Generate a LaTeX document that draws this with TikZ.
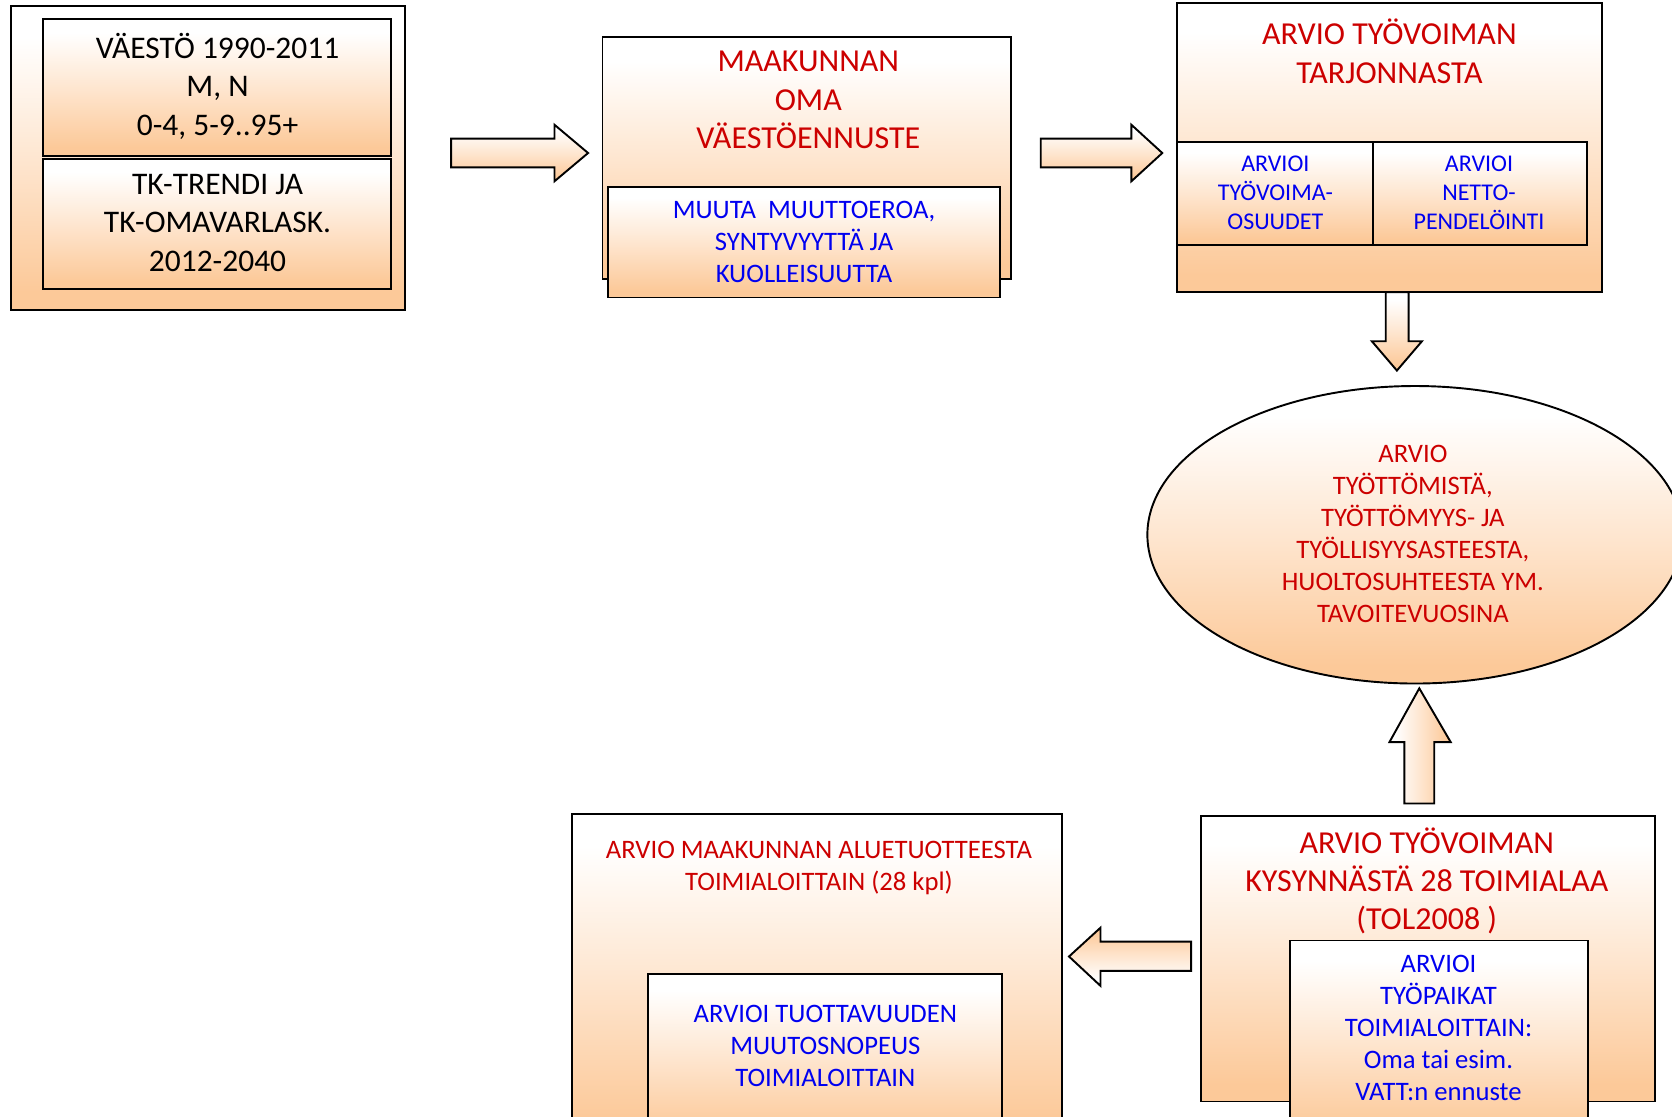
\documentclass[tikz,border=0pt]{standalone}
\usepackage{fontspec}
\setmainfont{Carlito}
\definecolor{orb}{RGB}{252,201,153}
\definecolor{orm}{RGB}{254,230,208}
\definecolor{tred}{RGB}{204,0,0}
\definecolor{tblue}{RGB}{0,0,240}
\pgfdeclareverticalshading{peach}{100bp}{color(0bp)=(orb); color(28bp)=(orb); color(50bp)=(orm); color(70bp)=(white); color(100bp)=(white)}
\tikzset{
  box/.style={draw=black, line width=1.8pt, shading=peach},
  barrow/.style={draw=black, line width=1.8pt, line join=miter, shading=peach},
  blk/.style={font=\fontsize{29.5}{36}\selectfont, align=center, text=black, inner sep=0pt},
  redbig/.style={font=\fontsize{30}{36}\selectfont, align=center, text=tred, inner sep=0pt},
  redsm/.style={font=\fontsize{25}{30}\selectfont, align=center, text=tred, inner sep=0pt},
  bluesm/.style={font=\fontsize{25}{30}\selectfont, align=center, text=tblue, inner sep=0pt},
  bluexs/.style={font=\fontsize{22.5}{27}\selectfont, align=center, text=tblue, inner sep=0pt}
}
\begin{document}
\begin{tikzpicture}[x=1pt,y=-1pt]
\useasboundingbox (0,0) rectangle (1568,1047);
\clip (0,0) rectangle (1568,1047);
\fill[white] (0,0) rectangle (1568,1047);
% box 1
\path[box] (10,6) rectangle (380,291);
\path[box] (40,18) rectangle (367,146);
\path[box] (40,149) rectangle (367,271);
\node[blk] (t1) at (204,81) {VÄESTÖ 1990-2011\\M, N\\0-4, 5-9..95+};
\node[blk] (t2) at (204,209) {TK-TRENDI JA\\TK-OMAVARLASK.\\2012-2040};
% arrow 1
\path[barrow] (423,130) -- (520,130) -- (520,117) -- (551.5,143.5) -- (520,170) -- (520,157) -- (423,157) -- cycle;
% box 2
\path[box] (565,35) rectangle (948,262);
\path[box] (570,175) rectangle (938,279);
\node[redbig] (t3) at (758,94) {MAAKUNNAN\\OMA\\VÄESTÖENNUSTE};
\node[bluesm] (t4) at (754,227) {MUUTA\ \ MUUTTOEROA,\\SYNTYVYYTTÄ JA\\KUOLLEISUUTTA};
% arrow 2
\path[barrow] (976,130) -- (1061,130) -- (1061,117) -- (1090,143.5) -- (1061,170) -- (1061,157) -- (976,157) -- cycle;
% box 3
\path[box] (1104,3) rectangle (1502,274);
\path[box] (1104,133.5) rectangle (1288,230);
\path[box] (1288,133.5) rectangle (1488,230);
\node[redbig] (t5) at (1303,48) {ARVIO TYÖVOIMAN\\TARJONNASTA};
\node[bluexs] (t6) at (1196,181) {ARVIOI\\TYÖVOIMA-\\OSUUDET};
\node[bluexs] (t7) at (1387,181) {ARVIOI\\NETTO-\\PENDELÖINTI};
% down arrow
\path[barrow] (1299.5,274) -- (1321,274) -- (1321,320) -- (1333.5,320) -- (1310,347.5) -- (1286.5,320) -- (1299.5,320) -- cycle;
% ellipse
\path[box] (1327,501.5) ellipse [x radius=251, y radius=139.5];
\node[redsm] (t8) at (1325,501) {ARVIO\\TYÖTTÖMISTÄ,\\TYÖTTÖMYYS- JA\\TYÖLLISYYSASTEESTA,\\HUOLTOSUHTEESTA YM.\\TAVOITEVUOSINA};
% up arrow
\path[barrow, shading angle=90] (1317,753.5) -- (1345,753.5) -- (1345,696) -- (1360.5,696) -- (1331,645.5) -- (1303,696) -- (1317,696) -- cycle;
% box bottom right
\path[box] (1126,765) rectangle (1552,1033);
\path[box] (1210,882) rectangle (1489,1070);
\node[redbig] (t9) at (1338,826) {ARVIO TYÖVOIMAN\\KYSYNNÄSTÄ 28 TOIMIALAA\\(TOL2008 )};
\node[bluesm] (t10) at (1349,964) {ARVIOI\\TYÖPAIKAT\\TOIMIALOITTAIN:\\Oma tai esim.\\VATT:n ennuste};
% left arrow
\path[barrow, shading angle=180] (1117,883) -- (1032,883) -- (1032,870) -- (1002.5,897) -- (1032,924.5) -- (1032,910.5) -- (1117,910.5) -- cycle;
% box bottom left
\path[box] (536,763) rectangle (996,1070);
\path[box] (608,913) rectangle (940,1070);
\node[redsm] (t11) at (768,814) {ARVIO MAAKUNNAN ALUETUOTTEESTA\\TOIMIALOITTAIN (28 kpl)};
\node[bluesm] (t12) at (774,981) {ARVIOI TUOTTAVUUDEN\\MUUTOSNOPEUS\\TOIMIALOITTAIN};
\end{tikzpicture}
\end{document}
